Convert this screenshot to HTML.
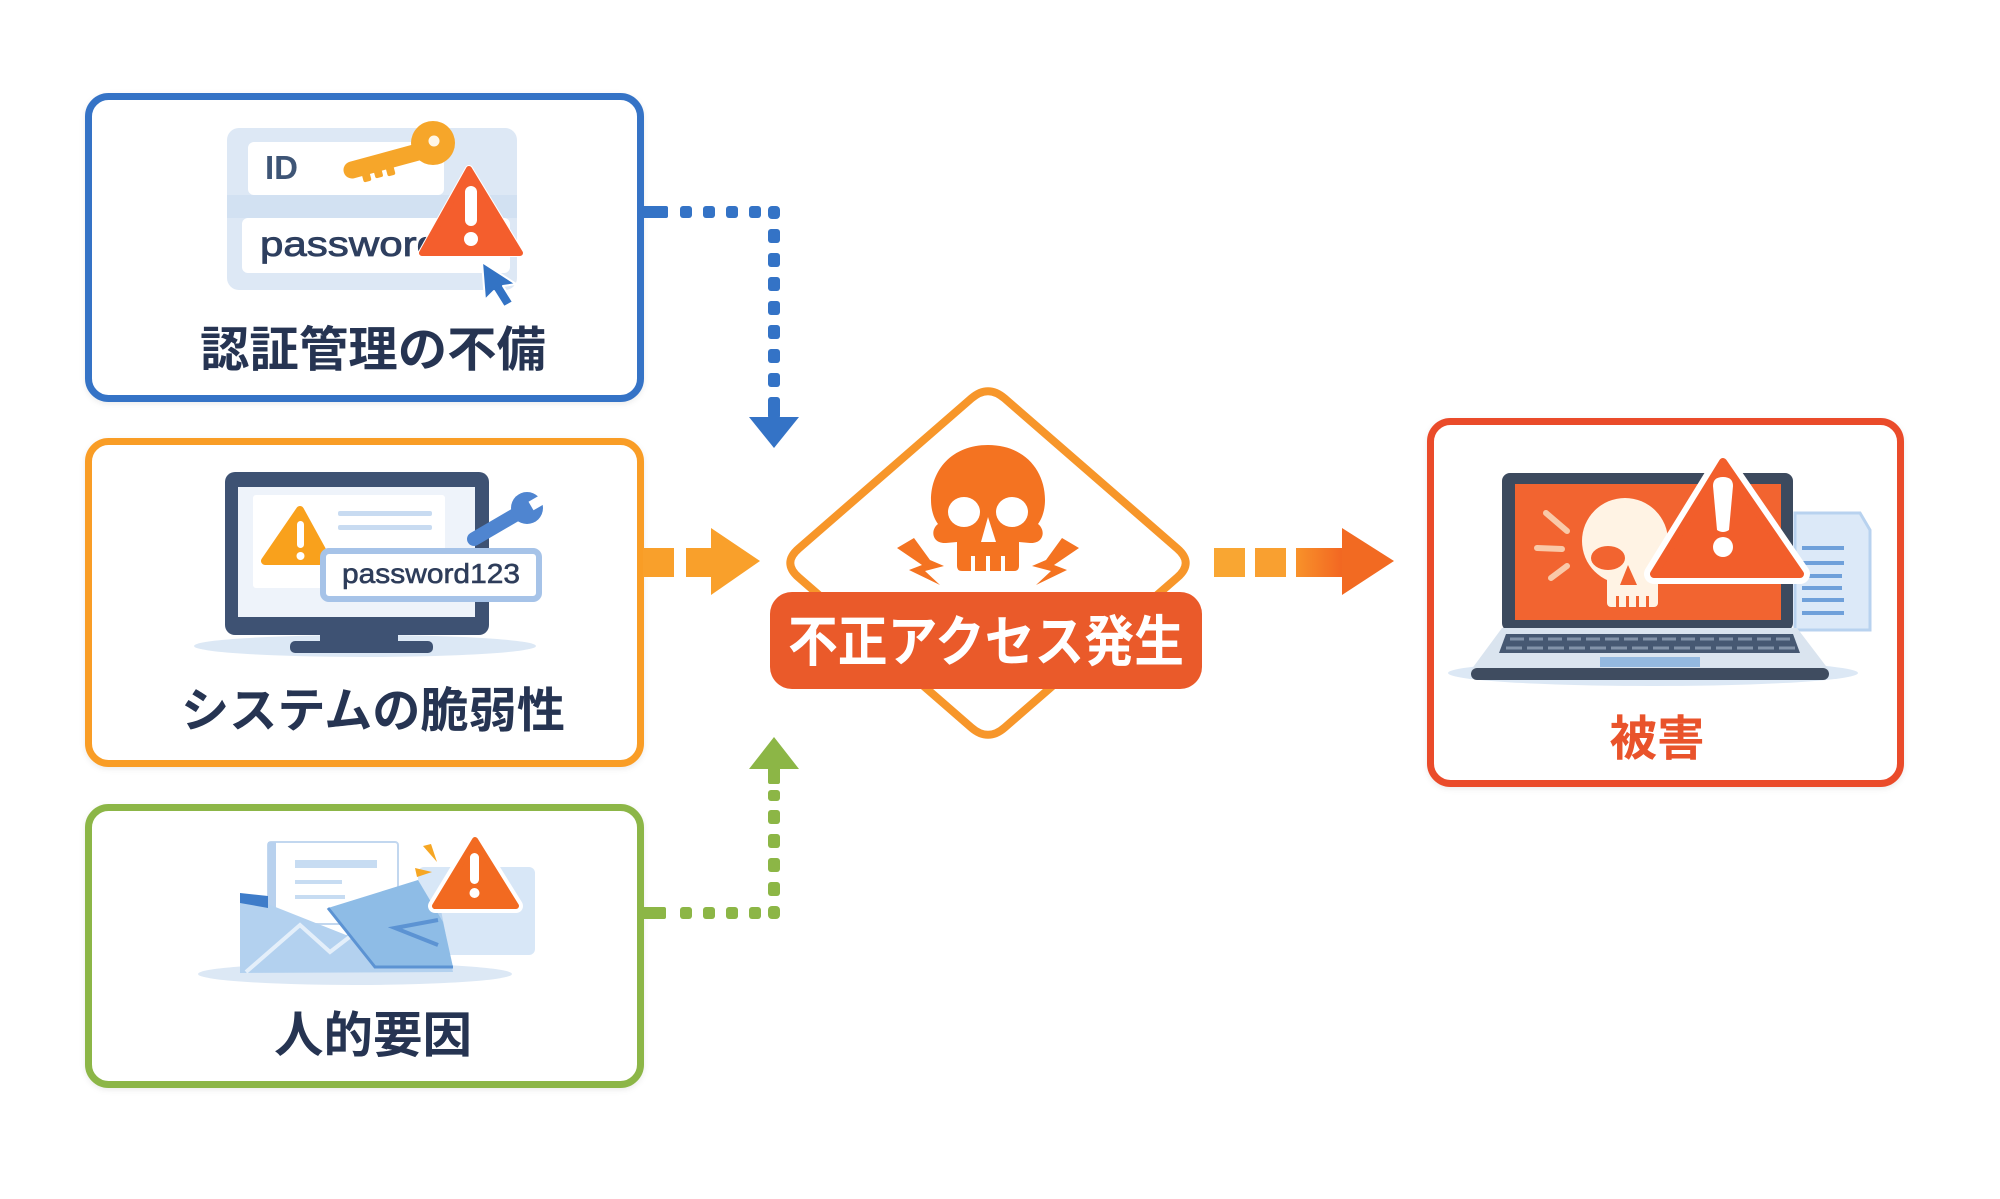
<!DOCTYPE html>
<html><head><meta charset="utf-8"><style>
html,body{margin:0;padding:0;background:#fff;}
svg{display:block;}
.lbl{font-family:"Liberation Sans","Noto Sans CJK JP",sans-serif;font-weight:700;}
</style></head><body>
<svg width="2000" height="1199" viewBox="0 0 2000 1199" xmlns="http://www.w3.org/2000/svg">
<defs>
<linearGradient id="arrG" x1="0" x2="1" y1="0" y2="0"><stop offset="0" stop-color="#F8922A"/><stop offset="1" stop-color="#F26522"/></linearGradient>
<filter id="sh" x="-10%" y="-10%" width="120%" height="130%"><feDropShadow dx="0" dy="2" stdDeviation="3" flood-color="#000" flood-opacity="0.08"/></filter>
</defs>
<rect width="2000" height="1199" fill="#fff"/>

<!-- Boxes -->
<rect x="88.5" y="96.5" width="552" height="302" rx="20" fill="#fff" stroke="#3473C6" stroke-width="7" filter="url(#sh)"/>
<rect x="88.5" y="441.5" width="552" height="322" rx="20" fill="#fff" stroke="#F99D25" stroke-width="7" filter="url(#sh)"/>
<rect x="88.5" y="807.5" width="552" height="277" rx="20" fill="#fff" stroke="#8CB646" stroke-width="7" filter="url(#sh)"/>
<rect x="1430.5" y="421.5" width="470" height="362" rx="20" fill="#fff" stroke="#EA4B2A" stroke-width="7" filter="url(#sh)"/>

<!-- Blue dotted connector -->
<g fill="#3473C6">
<rect x="642" y="206" width="26" height="12" rx="2"/>
<rect x="680" y="206" width="12" height="12" rx="3"/>
<rect x="703" y="206" width="12" height="12" rx="3"/>
<rect x="726" y="206" width="12" height="12" rx="3"/>
<rect x="749" y="206" width="12" height="12" rx="3"/>
<rect x="768" y="206" width="12" height="13" rx="4"/>
<rect x="768" y="229" width="12" height="14" rx="3"/>
<rect x="768" y="253" width="12" height="14" rx="3"/>
<rect x="768" y="277" width="12" height="14" rx="3"/>
<rect x="768" y="301" width="12" height="14" rx="3"/>
<rect x="768" y="325" width="12" height="14" rx="3"/>
<rect x="768" y="349" width="12" height="14" rx="3"/>
<rect x="768" y="373" width="12" height="14" rx="3"/>
<rect x="768" y="397" width="12" height="22" rx="3"/>
<polygon points="749,417 799,417 774,448"/>
</g>

<!-- Green dotted connector -->
<g fill="#8CB646">
<rect x="642" y="907" width="24" height="12" rx="2"/>
<rect x="680" y="907" width="12" height="12" rx="3"/>
<rect x="703" y="907" width="12" height="12" rx="3"/>
<rect x="726" y="907" width="12" height="12" rx="3"/>
<rect x="749" y="907" width="12" height="12" rx="3"/>
<rect x="768" y="906" width="12" height="13" rx="4"/>
<rect x="768" y="882" width="12" height="14" rx="3"/>
<rect x="768" y="858" width="12" height="14" rx="3"/>
<rect x="768" y="834" width="12" height="14" rx="3"/>
<rect x="768" y="810" width="12" height="14" rx="3"/>
<rect x="768" y="790" width="12" height="11" rx="3"/>
<rect x="768" y="766" width="12" height="18" rx="2"/>
<polygon points="749,769 799,769 774,737"/>
</g>

<!-- Orange arrow -->
<g fill="#F9A02B">
<rect x="643" y="548" width="31" height="29"/>
<rect x="686" y="548" width="26" height="29"/>
<polygon points="711,528 711,595 760,561"/>
</g>

<!-- Right arrow -->
<rect x="1214" y="548" width="31" height="29" fill="#F9A632"/>
<rect x="1255" y="548" width="31" height="29" fill="#F9A030"/>
<rect x="1296" y="548" width="48" height="29" fill="url(#arrG)"/>
<polygon points="1342,528 1342,595 1394,561" fill="#F26A22"/>

<!-- Diamond -->
<path d="M1004.6 398.4 L1177.4 548.6 Q1194 563 1177.4 577.4 L1004.6 727.6 Q988 742 971.4 727.6 L798.6 577.4 Q782 563 798.6 548.6 L971.4 398.4 Q988 384 1004.6 398.4 Z" fill="#fff" stroke="#F7962A" stroke-width="8"/>

<!-- Skull -->
<g fill="#F47321">
<path d="M988 445 C1024 445 1045 470 1045 500 C1045 512 1041 520 1038 524 C1046 530 1044 544 1030 543 L1019 542 L1019 566 Q1019 571 1014 571 L962 571 Q957 571 957 566 L957 542 L946 543 C932 544 930 530 938 524 C935 520 931 512 931 500 C931 470 952 445 988 445 Z"/>
<path d="M897 548 L914 538 L930 560 L944 566 L925 571 L940 585 L909 570 L922 565 Z"/>
<path d="M1079 548 L1062 538 L1046 560 L1032 566 L1051 571 L1036 585 L1067 570 L1054 565 Z"/>
</g>
<g fill="#fff">
<ellipse cx="964" cy="512" rx="16" ry="15"/>
<ellipse cx="1012" cy="512" rx="16" ry="15"/>
<polygon points="988,517 981,542 996,542"/>
<rect x="971" y="556" width="4" height="15"/>
<rect x="986" y="556" width="4" height="15"/>
<rect x="1001" y="556" width="4" height="15"/>
</g>

<!-- Center label -->
<rect x="770" y="592" width="432" height="97" rx="22" fill="#EA5A2A"/>
<text x="986" y="661" text-anchor="middle" class="lbl" font-size="55" fill="#fff" textLength="396" lengthAdjust="spacingAndGlyphs">不正アクセス発生</text>

<!-- ===== Blue icon: login ===== -->
<rect x="227" y="128" width="290" height="162" rx="12" fill="#DDE8F5"/>
<rect x="227" y="195" width="290" height="23" fill="#D2E1F2"/>
<rect x="248" y="142" width="196" height="53" rx="6" fill="#fff"/>
<rect x="242" y="218" width="268" height="55" rx="6" fill="#fff"/>
<text x="265" y="179" font-family="Liberation Sans, sans-serif" font-weight="700" font-size="33" fill="#3E5576">ID</text>
<text x="260" y="256" font-family="Liberation Sans, sans-serif" font-size="35" fill="#2E3F5F" stroke="#2E3F5F" stroke-width="0.8" textLength="180" lengthAdjust="spacingAndGlyphs">password</text>
<!-- key -->
<g fill="#F6A62A">
<line x1="352" y1="170" x2="418" y2="152" stroke="#F6A62A" stroke-width="17" stroke-linecap="round"/>
<circle cx="433" cy="143" r="22"/>
<rect x="362" y="170" width="8" height="12" rx="2" transform="rotate(-15 365 175)"/>
<rect x="374" y="167" width="8" height="11" rx="2" transform="rotate(-15 377 172)"/>
<rect x="386" y="164" width="8" height="12" rx="2" transform="rotate(-15 389 169)"/>
</g>
<circle cx="434" cy="141" r="5.5" fill="#FFF6E6"/>
<!-- warning -->
<path d="M469 169 L422 253 L520 253 Z" fill="#F45E2D" stroke="#fff" stroke-width="8" stroke-linejoin="round" paint-order="stroke"/>
<path d="M469 169 L422 253 L520 253 Z" fill="#F45E2D" stroke="#F45E2D" stroke-width="6" stroke-linejoin="round"/>
<rect x="465" y="186" width="12" height="40" rx="6" fill="#fff"/>
<circle cx="471" cy="239" r="7" fill="#fff"/>
<!-- cursor -->
<path d="M482 262 L485 300 L494 291 L504 307 L513 302 L503 286 L516 284 Z" fill="#3373C4" stroke="#fff" stroke-width="2" stroke-linejoin="round"/>

<!-- ===== Orange icon: monitor ===== -->
<ellipse cx="365" cy="646" rx="171" ry="11" fill="#DCE8F5"/>
<rect x="225" y="472" width="264" height="163" rx="10" fill="#3E5273"/>
<rect x="238" y="487" width="237" height="130" fill="#EEF3FA"/>
<rect x="253" y="495" width="192" height="93" rx="3" fill="#fff"/>
<rect x="320" y="633" width="78" height="10" fill="#3E5273"/>
<rect x="290" y="641" width="143" height="12" rx="5" fill="#3E5273"/>
<path d="M300 510 L265 561 L328 561 Z" fill="#F9A11C" stroke="#F9A11C" stroke-width="8" stroke-linejoin="round"/>
<rect x="297" y="521" width="7" height="27" rx="3.5" fill="#fff"/>
<circle cx="300.5" cy="556" r="4" fill="#fff"/>
<rect x="338" y="511" width="94" height="5" rx="2" fill="#C8DBF1"/>
<rect x="338" y="525" width="94" height="5" rx="2" fill="#C8DBF1"/>
<!-- wrench -->
<line x1="474" y1="539" x2="522" y2="511" stroke="#4F85D0" stroke-width="14" stroke-linecap="round"/>
<circle cx="527" cy="508" r="16" fill="#4F85D0"/>
<polygon points="528.5,501.7 533.5,510.3 552.5,499.3 547.5,490.7" fill="#fff"/>

<!-- field -->
<rect x="323" y="551" width="216" height="48" rx="6" fill="#fff" stroke="#A6C3E8" stroke-width="6"/>
<text x="342" y="583" font-family="Liberation Sans, sans-serif" font-size="28" fill="#2E3D5A" stroke="#2E3D5A" stroke-width="0.6" textLength="178" lengthAdjust="spacingAndGlyphs">password123</text>

<!-- ===== Green icon: email ===== -->
<ellipse cx="355" cy="974" rx="157" ry="11" fill="#DCE8F5"/>
<rect x="418" y="867" width="117" height="88" rx="6" fill="#D8E7F7"/>
<rect x="268" y="842" width="130" height="82" rx="3" fill="#fff" stroke="#C2D7EF" stroke-width="2"/>
<rect x="268" y="842" width="8" height="82" fill="#B8D1EE"/>
<rect x="295" y="860" width="82" height="8" fill="#C7DCF2"/>
<rect x="295" y="880" width="47" height="4" fill="#C7DCF2"/>
<rect x="295" y="895" width="50" height="4" fill="#C7DCF2"/>
<polygon points="240,893 346,935 440,905 453,972 240,973" fill="#B3D1EF"/>
<polygon points="240,893 268,896 268,908 240,903" fill="#3E7CC9"/>
<polyline points="246,972 300,925 330,952 356,932" fill="none" stroke="#E4EFFA" stroke-width="4"/>
<polygon points="328,908 418,880 443,922 453,967 375,967" fill="#8EBCE6"/>
<polyline points="328,908 375,967 453,967" fill="none" stroke="#5C93D3" stroke-width="3"/>
<polyline points="438,920 395,928 438,945" fill="none" stroke="#5C93D3" stroke-width="4"/>
<polygon points="423,846 431,844 437,862" fill="#F6A623"/>
<polygon points="415,868 432,872 417,877" fill="#F6A623"/>
<path d="M475 840 L435 906 L516 906 Z" fill="#F26A21" stroke="#fff" stroke-width="14" stroke-linejoin="round" paint-order="stroke"/>
<path d="M475 840 L435 906 L516 906 Z" fill="#F26A21" stroke="#F26A21" stroke-width="6" stroke-linejoin="round"/>
<rect x="470" y="853" width="9" height="31" rx="4.5" fill="#fff"/>
<circle cx="474.5" cy="893" r="5" fill="#fff"/>

<!-- ===== Red icon: laptop ===== -->
<ellipse cx="1653" cy="673" rx="205" ry="13" fill="#DCE8F5"/>
<path d="M1795 513 L1860 513 L1870 530 L1870 630 L1795 630 Z" fill="#DCE9F8" stroke="#B8D2EF" stroke-width="3"/>
<g fill="#6FA0DA">
<rect x="1802" y="546" width="42" height="4"/>
<rect x="1802" y="561" width="42" height="4"/>
<rect x="1802" y="574" width="40" height="4"/>
<rect x="1802" y="586" width="40" height="4"/>
<rect x="1802" y="598" width="42" height="4"/>
<rect x="1802" y="611" width="42" height="4"/>
</g>
<rect x="1502" y="473" width="291" height="158" rx="8" fill="#3C4A5E"/>
<rect x="1515" y="484" width="266" height="136" fill="#F26430"/>
<polygon points="1502,628 1797,628 1829,670 1471,670" fill="#DAE4EF"/>
<polygon points="1506,634 1793,634 1800,653 1499,653" fill="#465872"/>
<line x1="1510" y1="639" x2="1790" y2="639" stroke="#8393A9" stroke-width="3" stroke-dasharray="14 5"/>
<line x1="1506" y1="648" x2="1795" y2="648" stroke="#8393A9" stroke-width="3" stroke-dasharray="16 5"/>
<rect x="1600" y="657" width="100" height="10" fill="#94B9E0"/>
<rect x="1471" y="668" width="358" height="12" rx="6" fill="#3F4C60"/>
<!-- skull in laptop -->
<g fill="#FFF3E4">
<circle cx="1625" cy="541" r="43"/>
<rect x="1607" y="570" width="51" height="37" rx="4"/>
</g>
<g fill="#F26430">
<ellipse cx="1608" cy="558" rx="17" ry="12"/>
<polygon points="1628,565 1620,585 1637,585"/>
<rect x="1616" y="596" width="3" height="12"/>
<rect x="1626" y="596" width="3" height="12"/>
<rect x="1636" y="596" width="3" height="12"/>
<rect x="1646" y="596" width="3" height="12"/>
</g>
<g stroke="#F9C9A8" stroke-width="6" stroke-linecap="round">
<line x1="1546" y1="513" x2="1567" y2="531"/>
<line x1="1537" y1="548" x2="1562" y2="549"/>
<line x1="1551" y1="578" x2="1567" y2="566"/>
</g>
<path d="M1723 462 L1654 574 L1800 574 Z" fill="#F25E2B" stroke="#fff" stroke-width="20" stroke-linejoin="round" paint-order="stroke"/>
<path d="M1723 462 L1654 574 L1800 574 Z" fill="#F25E2B" stroke="#F25E2B" stroke-width="8" stroke-linejoin="round"/>
<path d="M1713 486 Q1713 477 1723 477 Q1733 477 1733 486 L1729 530 Q1723 534 1717 530 Z" fill="#fff"/>
<circle cx="1723" cy="547" r="10" fill="#fff"/>

<!-- Labels -->
<text x="373" y="366" text-anchor="middle" class="lbl" font-size="48" fill="#263452" textLength="346" lengthAdjust="spacingAndGlyphs">認証管理の不備</text>
<text x="373" y="727" text-anchor="middle" class="lbl" font-size="48" fill="#263452" textLength="384" lengthAdjust="spacingAndGlyphs">システムの脆弱性</text>
<text x="373" y="1052" text-anchor="middle" class="lbl" font-size="49" fill="#263452" textLength="198" lengthAdjust="spacingAndGlyphs">人的要因</text>
<text x="1657" y="755" text-anchor="middle" class="lbl" font-size="48" fill="#E9532B" textLength="95" lengthAdjust="spacingAndGlyphs">被害</text>
</svg>
</body></html>
